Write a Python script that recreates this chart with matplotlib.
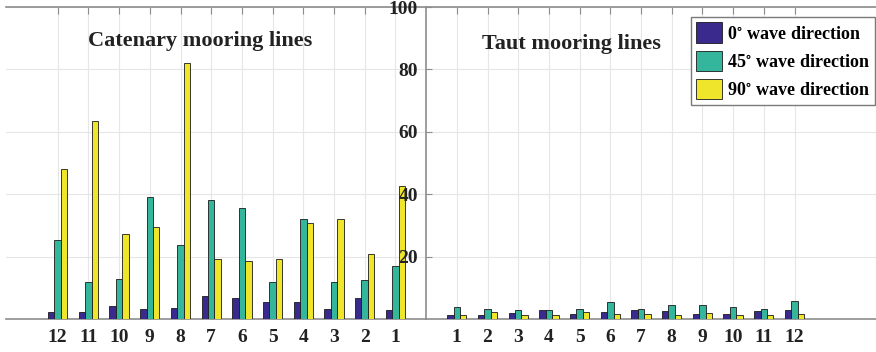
import matplotlib
matplotlib.use("Agg")
import matplotlib.pyplot as plt
import numpy as np

# ---- data ----
cat_labels = ["12", "11", "10", "9", "8", "7", "6", "5", "4", "3", "2", "1"]
taut_labels = ["1", "2", "3", "4", "5", "6", "7", "8", "9", "10", "11", "12"]
series_names = [r"0$^{\circ}$ wave direction", r"45$^{\circ}$ wave direction", r"90$^{\circ}$ wave direction"]

# catenary lines, in displayed order 12 .. 1
cat_0 = [2.4, 2.1, 4.3, 3.1, 3.4, 7.5, 6.6, 5.6, 5.6, 3.1, 6.8, 3.0]
cat_45 = [25.4, 12.0, 12.9, 39.2, 23.7, 38.1, 35.6, 11.7, 32.1, 11.7, 12.6, 16.9]
cat_90 = [48.1, 63.4, 27.3, 29.5, 82.0, 19.2, 18.6, 19.2, 30.7, 32.0, 20.9, 42.7]

# taut lines, in displayed order 1 .. 12
taut_0 = [1.2, 1.2, 1.9, 3.0, 1.7, 2.4, 3.0, 2.6, 1.7, 1.7, 2.6, 2.9]
taut_45 = [3.8, 3.1, 2.9, 3.0, 3.1, 5.4, 3.1, 4.5, 4.5, 4.0, 3.1, 5.7]
taut_90 = [1.4, 2.1, 1.2, 1.2, 2.1, 1.6, 1.6, 1.3, 2.0, 1.2, 1.3, 1.6]

y_ticks = [20, 40, 60, 80, 100]
colors = ["#3a2a8e", "#33b69b", "#efe52b"]

plt.rcParams["font.family"] = ["Liberation Serif", "DejaVu Serif"]
plt.rcParams["font.weight"] = "bold"
plt.rcParams["mathtext.fontset"] = "stix"

W, H = 876, 352
fig = plt.figure(figsize=(W / 100, H / 100), dpi=100)

# axes geometry (pixels)
left_px, right_px, top_px, bot_px = 6, 882, 7, 319
rect = [left_px / W, 1 - bot_px / H, (right_px - left_px) / W, (bot_px - top_px) / H]
ax = fig.add_axes(rect)

n = len(cat_labels)
x_cat = np.arange(1, n + 1)
x_mid = n + 1
x_taut = np.arange(n + 2, 2 * n + 2)

pitch = 30.7  # px per category
x0_px = 57.7
xlim = (1 + (left_px - x0_px) / pitch, 1 + (right_px - x0_px) / pitch)
ax.set_xlim(*xlim)
ax.set_ylim(0, 100)

bw = 0.21
all_x = np.concatenate([x_cat, x_taut])
vals = [cat_0 + taut_0, cat_45 + taut_45, cat_90 + taut_90]
for i, (v, c, name) in enumerate(zip(vals, colors, series_names)):
    ax.bar(all_x + (i - 1) * bw, v, width=bw, color=c, edgecolor="#1a1a1a",
           linewidth=0.6, label=name, zorder=3)

ax.set_xticks(all_x)
ax.set_xticklabels(cat_labels + taut_labels)
ax.set_yticks(y_ticks)
ax.tick_params(axis="y", left=False, labelleft=False)

ax.grid(True, color="#e6e6e6", linewidth=0.8, zorder=0)
ax.set_axisbelow(True)

for s in ["top", "bottom"]:
    ax.spines[s].set_color("#8c8c8c")
    ax.spines[s].set_linewidth(1.2)
ax.spines["right"].set_visible(False)
ax.spines["left"].set_visible(False)

ax.tick_params(axis="x", which="both", direction="in", top=True, bottom=True,
               length=5, color="#8c8c8c", labelsize=14, pad=7, labelcolor="#222222")
for lab in ax.get_xticklabels():
    lab.set_fontweight("bold")

# overlay axes carrying the middle y axis, drawn above the bars
ay = fig.add_axes(rect, sharey=ax, zorder=5)
ay.set_xlim(*xlim)
ay.patch.set_visible(False)
for s in ["top", "bottom", "right"]:
    ay.spines[s].set_visible(False)
ay.spines["left"].set_position(("data", x_mid))
ay.spines["left"].set_color("#8c8c8c")
ay.spines["left"].set_linewidth(1.2)
ay.set_xticks([])
ay.set_yticks(y_ticks)
ay.set_yticklabels([str(t) for t in y_ticks])
ay.tick_params(axis="y", direction="in", length=4, color="#8c8c8c",
               labelsize=14, pad=6, labelcolor="#222222")
for lab in ay.get_yticklabels():
    lab.set_fontweight("bold")

ax.text(5.63, 89, "Catenary mooring lines", ha="center", va="center",
        fontsize=16, fontweight="bold", color="#222222", zorder=5)
ax.text(17.72, 88, "Taut mooring lines", ha="center", va="center",
        fontsize=16, fontweight="bold", color="#222222", zorder=5)

leg = ay.legend(*ax.get_legend_handles_labels(), loc="upper right",
                bbox_to_anchor=(875 / W, 1 - 17 / H),
                bbox_transform=fig.transFigure, borderaxespad=0,
                fancybox=False, frameon=True, edgecolor="#7a7a7a", framealpha=1,
                prop={"family": "Liberation Serif", "weight": "bold", "size": 13},
                handlelength=1.45, handleheight=1.35, handletextpad=0.25,
                labelspacing=0.45, borderpad=0.3)
leg.get_frame().set_linewidth(1.0)
leg.set_zorder(10)

fig.savefig("out.png", dpi=100)
